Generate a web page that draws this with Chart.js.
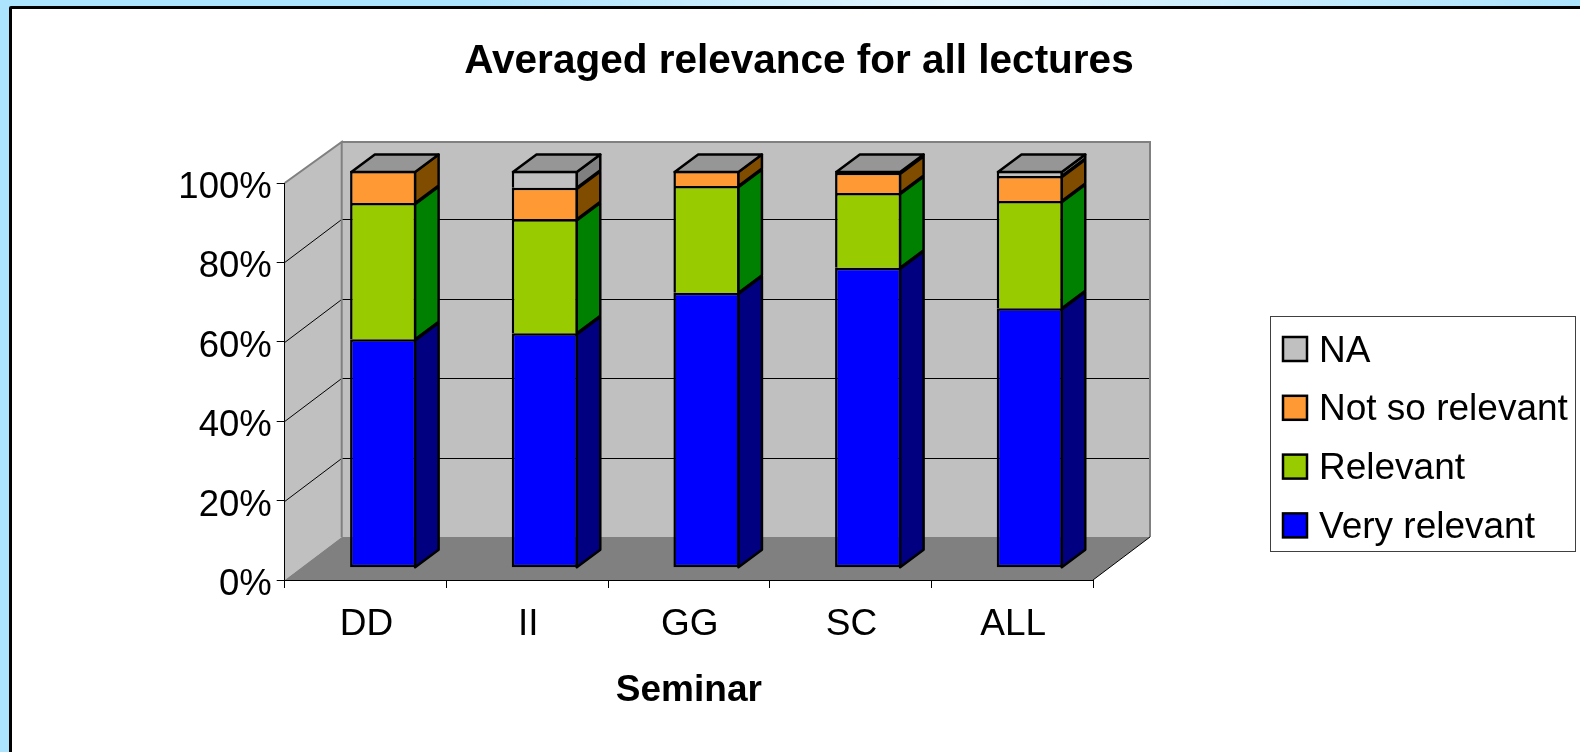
<!DOCTYPE html>
<html>
<head>
<meta charset="utf-8">
<title>Averaged relevance for all lectures</title>
<script src="https://cdn.jsdelivr.net/npm/chart.js@4"></script>
<style>
    html, body { margin: 0; padding: 0; width: 1580px; height: 752px; overflow: hidden; background: #ACE3FD; }
    #strip { position: absolute; left: 0; top: 0; width: 1580px; height: 6px; background: linear-gradient(90deg, #ACE3FD 0%, #ACE3FD 30%, #E4F6FE 60%, #ACE3FD 100%); }
    #panel { position: absolute; left: 9px; top: 5.5px; width: 1600px; height: 800px; background: #fff; border: 3px solid #000; border-radius: 2px; }
    #chart { position: absolute; left: 0; top: 0; }
</style>
</head>
<body>
<div id="strip"></div>
<div id="panel"></div>
<canvas id="chart" width="1580" height="752"></canvas>
<script>
const seminars = ['DD', 'II', 'GG', 'SC', 'ALL'];
const veryRelevant = [57.6, 59.1, 69.3, 75.6, 65.4];
const relevant = [34.3, 28.7, 26.9, 18.8, 27.0];
const notSoRelevant = [8.1, 7.9, 3.8, 5.1, 6.3];
const notApplicable = [0, 4.3, 0, 0.5, 1.3];
const yTickValues = [0, 20, 40, 60, 80, 100];

const fontFamily = '"Liberation Sans", Arial, sans-serif';

// Decalage du mur du fond et des barres par rapport au plan de l'axe
const wallDepth = { x: 57, y: -43, topY: -41 };
const barShift = { x: 17.7, y: -12.2 };
const barDepth = { x: 23.5, y: -17.5 };
const barBorder = 2.5;

const series = [
    { label: 'Very relevant', data: veryRelevant, front: '#0000FF', side: '#000080' },
    { label: 'Relevant', data: relevant, front: '#99CC00', side: '#008000' },
    { label: 'Not so relevant', data: notSoRelevant, front: '#FF9933', side: '#804C00' },
    { label: 'NA', data: notApplicable, front: '#C0C0C0', side: '#808080' }
];

function polygon(ctx, points, fill, stroke, lineWidth) {
    ctx.beginPath();
    points.forEach((p, i) => i ? ctx.lineTo(p[0], p[1]) : ctx.moveTo(p[0], p[1]));
    ctx.closePath();
    if (fill) {
        ctx.fillStyle = fill;
        ctx.fill();
    }
    if (stroke) {
        ctx.strokeStyle = stroke;
        ctx.lineWidth = lineWidth;
        ctx.stroke();
    }
}

// Murs, sol et grille de la boite 3D
const wallsPlugin = {
    id: 'walls',
    beforeDraw(chart) {
        const { ctx, chartArea: a, scales } = chart;
        const dx = wallDepth.x, dy = wallDepth.y;
        const backTop = a.top + wallDepth.topY, backBottom = a.bottom + dy;
        ctx.save();
        polygon(ctx, [[a.left, a.top], [a.left + dx, backTop], [a.left + dx, backBottom], [a.left, a.bottom]], '#C0C0C0');
        polygon(ctx, [[a.left + dx, backTop], [a.right + dx, backTop], [a.right + dx, backBottom], [a.left + dx, backBottom]], '#C0C0C0');
        polygon(ctx, [[a.left, a.bottom], [a.left + dx, backBottom], [a.right + dx, backBottom], [a.right, a.bottom]], '#808080');

        ctx.strokeStyle = '#000';
        ctx.lineWidth = 1;
        yTickValues.slice(1, -1).forEach(v => {
            const y = Math.round(scales.y.getPixelForValue(v)) + 0.5;
            ctx.beginPath();
            ctx.moveTo(a.left, y);
            ctx.lineTo(a.left + dx, y + dy);
            ctx.lineTo(a.right + dx, y + dy);
            ctx.stroke();
        });

        // Aretes grises du mur
        ctx.strokeStyle = '#808080';
        ctx.lineWidth = 2;
        ctx.beginPath();
        ctx.moveTo(a.left, a.top);
        ctx.lineTo(a.left + dx, backTop);
        ctx.lineTo(a.left + dx, backBottom);
        ctx.moveTo(a.left + dx, backTop);
        ctx.lineTo(a.right + dx, backTop);
        ctx.lineTo(a.right + dx, backBottom);
        ctx.stroke();

        ctx.strokeStyle = '#000';
        ctx.lineWidth = 1;
        ctx.beginPath();
        ctx.moveTo(a.right, a.bottom);
        ctx.lineTo(a.right + dx, backBottom);
        ctx.stroke();
        ctx.restore();
    }
};

// Les barres sont dessinees par Chart.js, decalees dans la profondeur, puis on ajoute les cotes et le dessus
const barsPlugin = {
    id: 'bars3d',
    beforeDatasetsDraw(chart) {
        chart.ctx.save();
        chart.ctx.translate(barShift.x, barShift.y);
    },
    afterDatasetsDraw(chart) {
        const ctx = chart.ctx;
        const dx = barDepth.x, dy = barDepth.y;
        const inset = barBorder / 2;
        ctx.lineJoin = 'round';
        series.forEach((s, d) => {
            chart.getDatasetMeta(d).data.forEach(bar => {
                const p = bar.getProps(['x', 'y', 'base', 'width'], true);
                if (p.base - p.y < 0.01) return;
                const r = p.x + p.width / 2 - inset;
                polygon(ctx, [[r, p.y + inset], [r + dx, p.y + inset + dy], [r + dx, p.base + dy], [r, p.base]], s.side, '#000', barBorder);
            });
        });
        chart.getDatasetMeta(series.length - 1).data.forEach(bar => {
            const p = bar.getProps(['x', 'y', 'width'], true);
            const l = p.x - p.width / 2 + inset, r = p.x + p.width / 2 - inset;
            const y = p.y + inset;
            polygon(ctx, [[l, y], [r, y], [r + dx, y + dy], [l + dx, y + dy]], '#969696', '#000', barBorder);
        });
        ctx.restore();
    }
};

// Legende encadree a droite, dans l'ordre inverse des series
const legendPlugin = {
    id: 'boxLegend',
    afterDraw(chart) {
        const ctx = chart.ctx;
        const box = { left: 1270.5, top: 316.5, width: 305, height: 235 };
        ctx.save();
        ctx.fillStyle = '#fff';
        ctx.strokeStyle = '#404040';
        ctx.lineWidth = 1;
        ctx.fillRect(box.left, box.top, box.width, box.height);
        ctx.strokeRect(box.left, box.top, box.width, box.height);
        ctx.font = '37px ' + fontFamily;
        ctx.textBaseline = 'alphabetic';
        [...series].reverse().forEach((s, i) => {
            const baseline = 361.5 + i * 58.8;
            ctx.fillStyle = s.front;
            ctx.fillRect(1283, baseline - 24.5, 24, 24);
            ctx.strokeStyle = '#000';
            ctx.lineWidth = barBorder;
            ctx.strokeRect(1283, baseline - 24.5, 24, 24);
            ctx.fillStyle = '#000';
            ctx.fillText(s.label, 1319, baseline);
        });
        ctx.restore();
    }
};

new Chart(document.getElementById('chart').getContext('2d'), {
    type: 'bar',
    data: {
        labels: seminars,
        datasets: series.map((s, i) => ({
            label: s.label,
            data: s.data,
            backgroundColor: s.front,
            borderColor: '#000',
            borderWidth: barBorder,
            borderSkipped: i === 0 ? false : 'bottom',
            categoryPercentage: 1,
            barPercentage: 0.41,
            clip: false
        }))
    },
    options: {
        responsive: false,
        animation: false,
        layout: { padding: { left: 18, right: 0, top: 0, bottom: 0 } },
        scales: {
            x: {
                stacked: true,
                afterFit: scale => { scale.height = 172; },
                grid: { drawOnChartArea: false, color: '#000', tickLength: 8 },
                border: { color: '#000', width: 1 },
                ticks: { color: '#000', padding: 14.5, labelOffset: 1, maxRotation: 0, font: { family: fontFamily, size: 37 } },
                title: {
                    display: true,
                    text: 'Seminar',
                    color: '#000',
                    padding: { top: 0, bottom: 39 },
                    font: { family: fontFamily, size: 37, weight: 'bold' }
                }
            },
            y: {
                stacked: true,
                min: 0,
                max: 100,
                afterFit: scale => { scale.width = 266.7; },
                grid: { drawOnChartArea: false, color: '#000', tickLength: 8 },
                border: { color: '#000', width: 1 },
                afterBuildTicks: scale => { scale.ticks = yTickValues.map(value => ({ value })); },
                ticks: {
                    color: '#000',
                    padding: 5,
                    labelOffset: 5,
                    font: { family: fontFamily, size: 36.5 },
                    callback: value => value + '%'
                }
            },
            // Axe vide: reserve la place de la legende a droite sans decentrer le titre
            legendSpace: {
                axis: 'y',
                position: 'right',
                afterFit: scale => { scale.width = 487; },
                grid: { display: false },
                border: { display: false },
                ticks: { display: false }
            }
        },
        plugins: {
            legend: { display: false },
            tooltip: { enabled: false },
            title: {
                display: true,
                text: 'Averaged relevance for all lectures',
                color: '#000',
                padding: { top: 37.7, bottom: 96.7 },
                font: { family: fontFamily, size: 40.5, weight: 'bold' }
            }
        }
    },
    plugins: [wallsPlugin, barsPlugin, legendPlugin]
});
</script>
</body>
</html>
